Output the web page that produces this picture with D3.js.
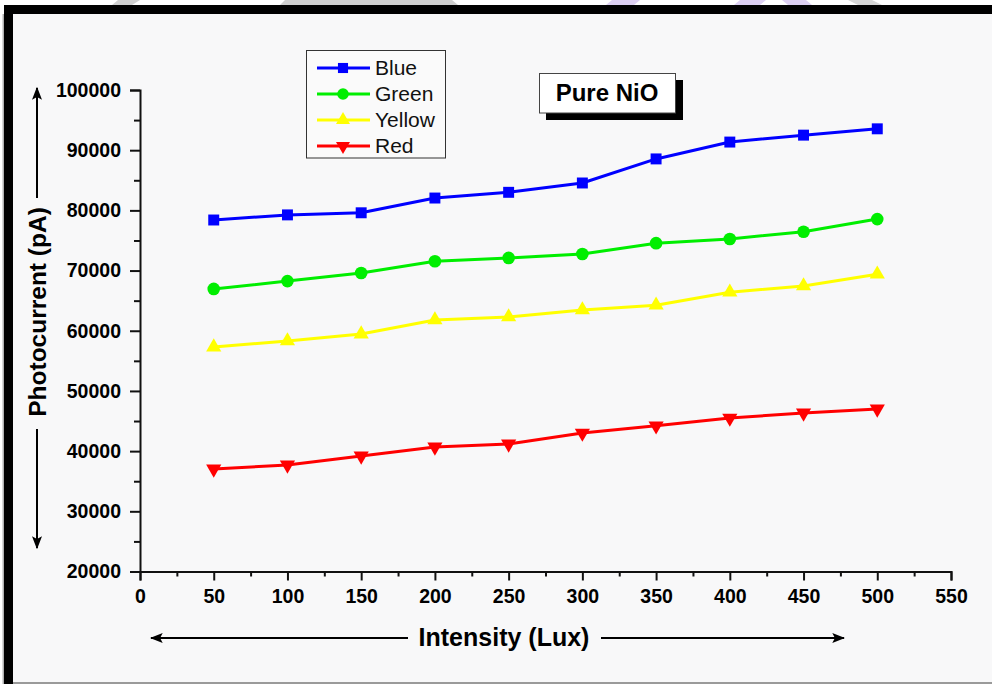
<!DOCTYPE html>
<html>
<head>
<meta charset="utf-8">
<script src="https://cdn.jsdelivr.net/npm/d3@7/dist/d3.min.js"></script>
<style>
  html, body { margin: 0; padding: 0; background: #ffffff; }
  svg { display: block; }
  text { font-family: "Liberation Sans", Arial, sans-serif; }
</style>
</head>
<body>
<svg id="chart" width="992" height="684"></svg>
<script>
// Light intensity (Lux) at which the photocurrent was measured
const intensity = [50, 100, 150, 200, 250, 300, 350, 400, 450, 500];

// Photocurrent (pA) under each illumination colour
const blueValues   = [78400, 79250, 79600, 82050, 83000, 84550, 88550, 91350, 92500, 93550];
const greenValues  = [66950, 68250, 69600, 71550, 72100, 72750, 74550, 75250, 76450, 78550];
const yellowValues = [57300, 58300, 59450, 61800, 62300, 63450, 64250, 66400, 67450, 69400];
const redValues    = [37050, 37700, 39200, 40700, 41200, 43000, 44200, 45500, 46350, 47000];

const seriesNames = ["Blue", "Green", "Yellow", "Red"];
const seriesColors = ["#0000ff", "#00ee00", "#ffff00", "#ff0000"];

// Axis ticks
const xMajorTicks = [0, 50, 100, 150, 200, 250, 300, 350, 400, 450, 500, 550];
const xMinorTicks = [25, 75, 125, 175, 225, 275, 325, 375, 425, 475, 525];
const yMajorTicks = [20000, 30000, 40000, 50000, 60000, 70000, 80000, 90000, 100000];
const yMinorTicks = [25000, 35000, 45000, 55000, 65000, 75000, 85000, 95000];

const chartTitle = "Pure NiO";
const xTitle = "Intensity (Lux)";
const yTitle = "Photocurrent (pA)";

const svg = d3.select("#chart");
const W = 992, H = 684;

// faint marks along the very top edge
const topMarks = [
  [[118, 0], [140, 0], [132, 5], [112, 5]],
  [[285, 0], [452, 0], [458, 5], [280, 5]],
  [[612, 0], [640, 0], [634, 5], [606, 5]],
  [[740, 0], [766, 0], [760, 5], [734, 5]],
  [[782, 0], [806, 0], [812, 5], [788, 5]],
  [[848, 0], [872, 0], [882, 5], [858, 5]]
];
const topMarkColors = ["#d0d0d0", "#cfcfcf", "#ddd0f2", "#ddd0f2", "#ddd0f2", "#d6d6d6"];
svg.selectAll("polygon.topmark").data(topMarks).join("polygon")
  .attr("class", "topmark")
  .attr("points", d => d.map(p => p.join(",")).join(" "))
  .attr("fill", (d, i) => topMarkColors[i]);

// page frame
svg.append("rect").attr("x", 12).attr("y", 13).attr("width", W - 12).attr("height", H - 13)
  .attr("fill", "#f8f8f9");
svg.append("rect").attr("x", 2.5).attr("y", 14).attr("width", 1.5).attr("height", H - 14).attr("fill", "#b0b0b0");
svg.append("rect").attr("x", 4).attr("y", 5).attr("width", 9).attr("height", H - 5).attr("fill", "#000");
svg.append("rect").attr("x", 4).attr("y", 5).attr("width", W - 4).attr("height", 9).attr("fill", "#000");
svg.append("rect").attr("x", 13).attr("y", 682).attr("width", W - 13).attr("height", 2).attr("fill", "#9a9a9a");

// scales
const x = d3.scaleLinear().domain([0, 550]).range([140, 951]);
const y = d3.scaleLinear().domain([20000, 100000]).range([571.5, 90]);

const axisColor = "#111";

// y axis
const yAxis = svg.append("g").attr("transform", `translate(${x(0)},0)`)
  .call(d3.axisLeft(y).tickValues(yMajorTicks).tickSize(10).tickPadding(9).tickFormat(d3.format("d")));
yAxis.append("g").call(d3.axisLeft(y).tickValues(yMinorTicks).tickSize(6).tickFormat(""))
  .select(".domain").remove();

// x axis
const xAxis = svg.append("g").attr("transform", `translate(0,${y(20000)})`)
  .call(d3.axisBottom(x).tickValues(xMajorTicks).tickSize(9).tickPadding(9).tickFormat(d3.format("d")));
xAxis.append("g").call(d3.axisBottom(x).tickValues(xMinorTicks).tickSize(5).tickFormat(""))
  .select(".domain").remove();

[yAxis, xAxis].forEach(a => {
  a.selectAll(".domain").attr("stroke", axisColor).attr("stroke-width", 2);
  a.selectAll(".tick line").attr("stroke", axisColor).attr("stroke-width", 2);
  a.selectAll(".tick text").attr("fill", "#000").attr("font-size", 19.5).attr("font-weight", "bold")
    .attr("font-family", "'Liberation Sans', Arial, sans-serif");
});

// arrow heads
const defs = svg.append("defs");
defs.append("marker").attr("id", "arrow").attr("viewBox", "0 0 10 10")
  .attr("refX", 9).attr("refY", 5).attr("markerWidth", 13).attr("markerHeight", 10)
  .attr("markerUnits", "userSpaceOnUse").attr("orient", "auto")
  .attr("preserveAspectRatio", "none")
  .append("path").attr("d", "M0,0 L10,5 L0,10 L2,5 Z").attr("fill", "#000");

// axis titles with direction arrows
svg.append("text").attr("x", 504).attr("y", 646).attr("text-anchor", "middle")
  .attr("font-size", 25).attr("font-weight", "bold").text(xTitle);
svg.append("line").attr("x1", 408).attr("y1", 638).attr("x2", 151).attr("y2", 638)
  .attr("stroke", "#000").attr("stroke-width", 2).attr("marker-end", "url(#arrow)");
svg.append("line").attr("x1", 601).attr("y1", 638).attr("x2", 844).attr("y2", 638)
  .attr("stroke", "#000").attr("stroke-width", 2).attr("marker-end", "url(#arrow)");

svg.append("text").attr("transform", "translate(46,312) rotate(-90)").attr("text-anchor", "middle")
  .attr("font-size", 24.5).attr("font-weight", "bold").text(yTitle);
svg.append("line").attr("x1", 37).attr("y1", 198).attr("x2", 37).attr("y2", 88)
  .attr("stroke", "#000").attr("stroke-width", 2).attr("marker-end", "url(#arrow)");
svg.append("line").attr("x1", 37).attr("y1", 429).attr("x2", 37).attr("y2", 548)
  .attr("stroke", "#000").attr("stroke-width", 2).attr("marker-end", "url(#arrow)");

// marker shapes for each series
const symbols = [
  { type: d3.symbolSquare, size: 120, rotate: 0 },
  { type: d3.symbolCircle, size: 125, rotate: 0 },
  { type: d3.symbolTriangle, size: 100, rotate: 0 },
  { type: d3.symbolTriangle, size: 100, rotate: 180 }
];

const seriesValues = [blueValues, greenValues, yellowValues, redValues];
const line = d3.line().x(d => x(d[0])).y(d => y(d[1]));

seriesValues.forEach((vals, i) => {
  const pts = intensity.map((v, j) => [v, vals[j]]);
  const g = svg.append("g");
  g.append("path").datum(pts).attr("d", line).attr("fill", "none")
    .attr("stroke", seriesColors[i]).attr("stroke-width", 3).attr("stroke-linejoin", "round");
  const sym = d3.symbol().type(symbols[i].type).size(symbols[i].size);
  g.selectAll("path.pt").data(pts).join("path").attr("class", "pt")
    .attr("transform", d => `translate(${x(d[0])},${y(d[1])}) rotate(${symbols[i].rotate})`)
    .attr("d", sym).attr("fill", seriesColors[i]);
});

// legend
const legend = svg.append("g");
legend.append("rect").attr("x", 306.5).attr("y", 50.5).attr("width", 139).attr("height", 107.5)
  .attr("fill", "#fafafa").attr("stroke", "#333").attr("stroke-width", 1);
seriesNames.forEach((name, i) => {
  const ly = 68 + i * 26;
  legend.append("line").attr("x1", 317).attr("x2", 370).attr("y1", ly).attr("y2", ly)
    .attr("stroke", seriesColors[i]).attr("stroke-width", 3);
  legend.append("path")
    .attr("transform", `translate(343,${ly}) rotate(${symbols[i].rotate})`)
    .attr("d", d3.symbol().type(symbols[i].type).size(symbols[i].size * 0.85)())
    .attr("fill", seriesColors[i]);
  legend.append("text").attr("x", 375).attr("y", ly + 7).attr("font-size", 21).attr("fill", "#111")
    .text(name);
});

// title box with drop shadow
svg.append("rect").attr("x", 546).attr("y", 80).attr("width", 137).attr("height", 40).attr("fill", "#000");
svg.append("rect").attr("x", 539.5).attr("y", 73.5).attr("width", 136).attr("height", 39.5)
  .attr("fill", "#fff").attr("stroke", "#444").attr("stroke-width", 1);
svg.append("text").attr("x", 607).attr("y", 101).attr("text-anchor", "middle")
  .attr("font-size", 24).attr("font-weight", "bold").attr("fill", "#000").text(chartTitle);
</script>
</body>
</html>
